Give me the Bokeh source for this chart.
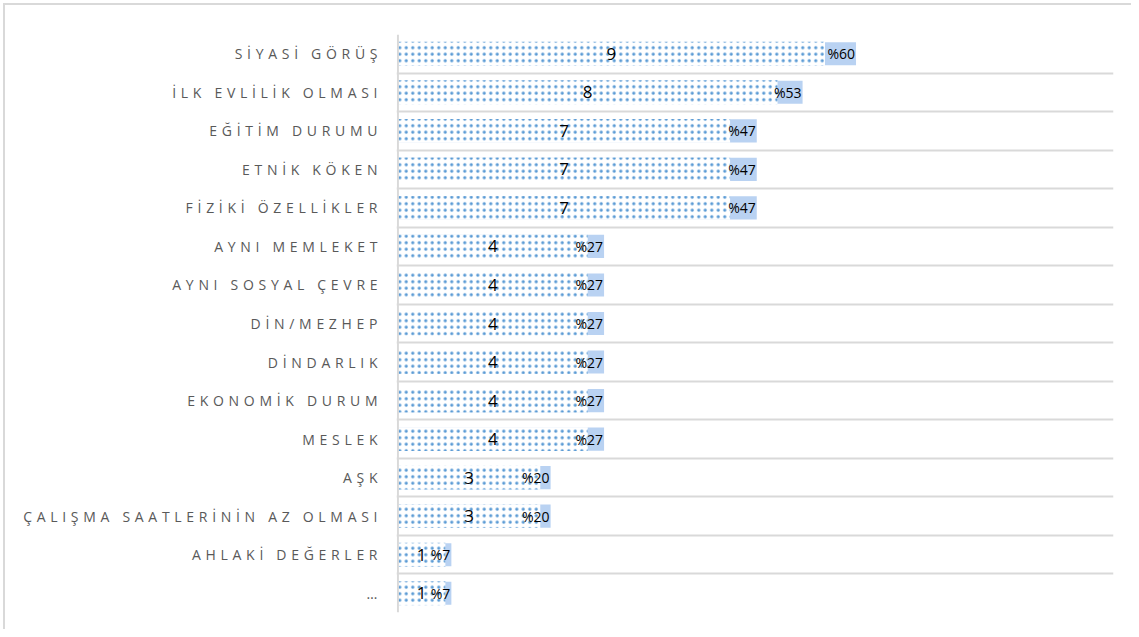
from bokeh.plotting import figure
from bokeh.models import Range1d, FixedTicker, ColumnDataSource, Span
from bokeh.layouts import row
from bokeh.core.properties import value
from bokeh.embed import file_html
from bokeh.resources import INLINE

categories = ["SİYASİ GÖRÜŞ", "İLK EVLİLİK OLMASI", "EĞİTİM DURUMU", "ETNİK KÖKEN",
              "FİZİKİ ÖZELLİKLER", "AYNI MEMLEKET", "AYNI SOSYAL ÇEVRE", "DİN/MEZHEP",
              "DİNDARLIK", "EKONOMİK DURUM", "MESLEK", "AŞK",
              "ÇALIŞMA SAATLERİNİN AZ OLMASI", "AHLAKİ DEĞERLER", "…"]
counts = [9, 8, 7, 7, 7, 4, 4, 4, 4, 4, 4, 3, 3, 1, 1]
percents = [60, 53, 47, 47, 47, 27, 27, 27, 27, 27, 27, 20, 20, 7, 7]

n = len(categories)
ypos = [n - i - 0.5 for i in range(n)]
SPACING = 4.7  # letter spacing of category labels (px)

src = ColumnDataSource(dict(
    y=ypos, cnt=counts, pct=percents,
    cnt_half=[c / 2 for c in counts],
    cnt_lbl=[str(c) for c in counts],
    pct_lbl=["%" + str(v) for v in percents],
    zero=[0] * n,
))
lab_src = ColumnDataSource(dict(
    y=ypos, cat=categories,
    off=[-(len(c) - 1) * SPACING for c in categories],
))

H = 624
yr = Range1d(0, n)
LW = 391

# left figure: category labels (letter-spaced)
L = figure(width=LW, height=H, output_backend="svg", toolbar_location=None,
           x_range=Range1d(0, LW), y_range=yr,
           min_border_left=0, min_border_right=0, min_border_top=29, min_border_bottom=17)
L.outline_line_color = None
L.border_fill_color = "white"
L.background_fill_color = "white"
L.axis.visible = False
L.grid.visible = False
L.styles = {"letter-spacing": f"{SPACING}px"}
L.text(x=LW - 19, y="y", text="cat", source=lab_src, x_offset="off",
       text_align="right", text_baseline="middle", text_font=value("Open Sans"),
       text_font_size="14px", text_color="#595959")

# main figure
p = figure(width=735, height=H, output_backend="svg", toolbar_location=None,
           x_range=Range1d(-0.03, 15.08), y_range=yr,
           min_border_left=0, min_border_top=29, min_border_right=18, min_border_bottom=17)
p.extra_x_ranges = {"pct": Range1d(-0.03 / 0.1609, 15.08 / 0.1609)}
p.outline_line_color = None
p.background_fill_color = "white"
p.border_fill_color = "white"

p.hbar(y="y", left="zero", right="pct", height=0.6, source=src, x_range_name="pct",
       fill_color="#b9d2f2", line_color=None)
p.hbar(y="y", left="zero", right="cnt", height=0.62, source=src,
       fill_color="white", line_color=None,
       hatch_pattern="dot", hatch_color="#5b9bd5", hatch_scale=6.5, hatch_weight=1.0)

p.text(x="cnt_half", y="y", text="cnt_lbl", source=src, text_align="center",
       text_baseline="middle", text_font=value("Open Sans"), text_font_size="17px",
       text_color="black")
p.text(x="pct", y="y", text="pct_lbl", source=src, x_range_name="pct",
       text_align="right", text_baseline="middle", text_font=value("Open Sans"),
       text_font_size="14px", text_color="black", x_offset=-1)

p.add_layout(Span(location=0, dimension="height", line_color="#d9d9d9", line_width=2))

p.xaxis.visible = False
p.yaxis.visible = False
p.xgrid.visible = False
p.ygrid.ticker = FixedTicker(ticks=list(range(n + 1)))
p.ygrid.grid_line_color = "#d9d9d9"
p.ygrid.grid_line_width = 2

layout = row(L, p, styles={"margin-left": "3px", "margin-top": "3px",
                           "border-top": "2px solid #d9d9d9",
                           "border-left": "2px solid #d9d9d9"})

open("out.html", "w").write(file_html(layout, INLINE))
